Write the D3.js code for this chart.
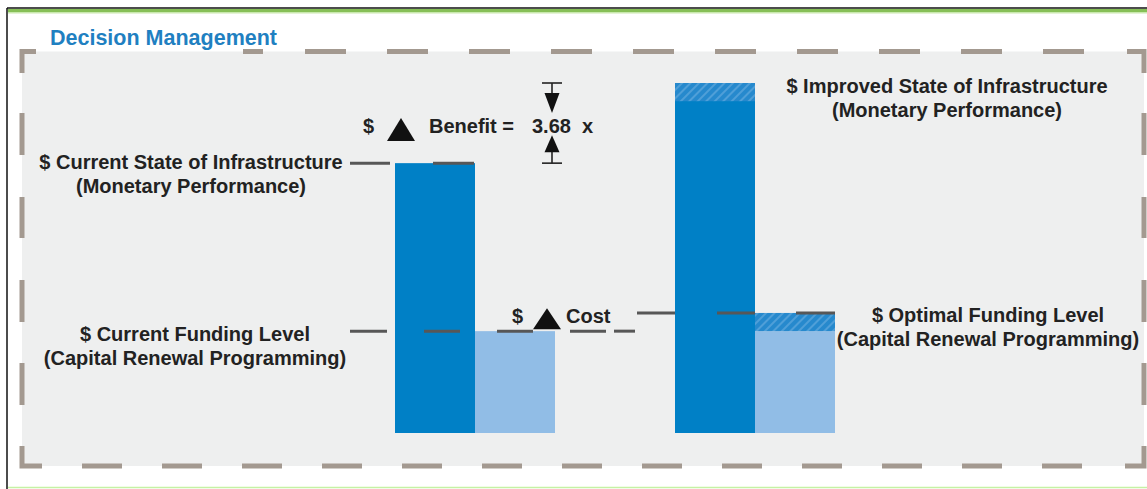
<!DOCTYPE html>
<html>
<head>
<meta charset="utf-8">
<script src="https://cdn.jsdelivr.net/npm/d3@7"></script>
<style>
  html, body { margin: 0; padding: 0; background: #fff; overflow: hidden; }
  svg { display: block; }
</style>
</head>
<body>
<script>
// ---- data -------------------------------------------------------------
const categories = ["Current", "Optimal"];
const stateValues = [77.1, 100];      // monetary performance of the infrastructure
const fundingValues = [29.1, 34.3];   // capital renewal funding level
const benefitFactor = "3.68";
const titleText = "Decision Management";
const stateLabels = [
  ["$ Current State of Infrastructure", "(Monetary Performance)"],
  ["$ Improved State of Infrastructure", "(Monetary Performance)"]
];
const fundingLabels = [
  ["$ Current Funding Level", "(Capital Renewal Programming)"],
  ["$ Optimal Funding Level", "(Capital Renewal Programming)"]
];

// ---- setup ------------------------------------------------------------
const W = 1147, H = 489;
const FONT = "'Liberation Sans', Arial, Helvetica, sans-serif";
const TXT = "#222";
const LINE = "#575757";
const DASH = "#a39990";
const FS = 20;

const svg = d3.select("body").append("svg")
  .attr("width", W).attr("height", H)
  .style("font-family", FONT);

const x = d3.scaleBand().domain(categories).range([395, 835])
  .paddingInner(120 / 280).paddingOuter(0);
const xs = d3.scaleBand().domain(["state", "funding"]).range([0, x.bandwidth()]).padding(0);
const y = d3.scaleLinear().domain([0, 100]).range([433, 83]);

const defs = svg.append("defs");
const pat = defs.append("pattern").attr("id", "hatch")
  .attr("patternUnits", "userSpaceOnUse").attr("width", 6).attr("height", 6)
  .attr("patternTransform", "rotate(45)");
pat.append("rect").attr("width", 6).attr("height", 6).attr("fill", "#2689cd");
pat.append("rect").attr("width", 2).attr("height", 6).attr("fill", "#4f9fd8");

// ---- page frame -------------------------------------------------------
svg.append("rect").attr("x", 8).attr("y", 9).attr("width", W - 8).attr("height", 3).attr("fill", "#86bf57");
svg.append("rect").attr("x", 8).attr("y", 12).attr("width", W - 8).attr("height", 1.5).attr("fill", "#c9e8ae");
svg.append("line").attr("x1", 7).attr("x2", W).attr("y1", 8).attr("y2", 8).attr("stroke", "#111").attr("stroke-width", 1.5);
svg.append("line").attr("x1", 7).attr("x2", 7).attr("y1", 8).attr("y2", H).attr("stroke", "#111").attr("stroke-width", 1.5);
svg.append("line").attr("x1", 8).attr("x2", W).attr("y1", 487.5).attr("y2", 487.5).attr("stroke", "#c6f1a4").attr("stroke-width", 1.5);

// grey panel with dashed border
svg.append("rect").attr("x", 22).attr("y", 51.5).attr("width", 1122).attr("height", 414.5).attr("fill", "#eeefef");

const frame = svg.append("g").attr("stroke", DASH).attr("stroke-width", 5).attr("fill", "none");
const corners = [
  [[22, 73], [22, 51.5], [36, 51.5]],
  [[1127, 51.5], [1144, 51.5], [1144, 73]],
  [[22, 446], [22, 466], [42, 466]],
  [[1125, 466], [1144, 466], [1144, 446]]
];
frame.selectAll("path.corner").data(corners).join("path")
  .attr("class", "corner").attr("d", d => d3.line()(d));

const topDashes = [[243, 263]].concat(d3.range(10).map(k => [305 + 82 * k, 346 + 82 * k]));
const bottomDashes = d3.range(13).map(k => [82 + 80 * k, 122 + 80 * k]);
const sideDashes = [[113, 155], [197, 238], [280, 322], [363, 405]];
frame.selectAll("line.top").data(topDashes).join("line").attr("class", "top")
  .attr("x1", d => d[0]).attr("x2", d => d[1]).attr("y1", 51.5).attr("y2", 51.5);
frame.selectAll("line.bottom").data(bottomDashes).join("line").attr("class", "bottom")
  .attr("x1", d => d[0]).attr("x2", d => d[1]).attr("y1", 466).attr("y2", 466);
[22, 1144].forEach(cx => {
  frame.append("g").selectAll("line").data(sideDashes).join("line")
    .attr("x1", cx).attr("x2", cx).attr("y1", d => d[0]).attr("y2", d => d[1]);
});

// title
svg.append("text").attr("x", 50).attr("y", 45).text(titleText)
  .attr("fill", "#1f80c1").attr("font-weight", "bold").attr("font-size", 21.5);

// ---- bars -------------------------------------------------------------
const bars = svg.append("g");
categories.forEach((c, i) => {
  const x0 = x(c);
  // state bar (dark)
  bars.append("rect").attr("x", x0 + xs("state")).attr("width", xs.bandwidth())
    .attr("y", y(stateValues[i])).attr("height", y(0) - y(stateValues[i])).attr("fill", "#0080c6");
  // funding bar (light) up to the current funding level
  bars.append("rect").attr("x", x0 + xs("funding")).attr("width", xs.bandwidth())
    .attr("y", y(fundingValues[0])).attr("height", y(0) - y(fundingValues[0])).attr("fill", "#91bde6");
  if (i > 0) {
    const extra = fundingValues[i] - fundingValues[0];
    // additional funding (hatched)
    bars.append("rect").attr("x", x0 + xs("funding")).attr("width", xs.bandwidth())
      .attr("y", y(fundingValues[i])).attr("height", y(fundingValues[0]) - y(fundingValues[i]))
      .attr("fill", "url(#hatch)");
    // matching share at the top of the improved state bar
    bars.append("rect").attr("x", x0 + xs("state")).attr("width", xs.bandwidth())
      .attr("y", y(stateValues[i])).attr("height", y(stateValues[i] - extra) - y(stateValues[i]))
      .attr("fill", "url(#hatch)");
  }
});

// ---- level leader lines ----------------------------------------------
const leaders = [
  { v: stateValues[0], segs: [[350, 390], [433, 474]] },
  { v: fundingValues[0], segs: [[350, 387], [424, 460], [497, 533], [570, 606], [614, 635]] },
  { v: fundingValues[1], segs: [[637, 675], [717, 755], [796, 835]] }
];
const lg = svg.append("g").attr("stroke", LINE).attr("stroke-width", 3);
leaders.forEach(l => {
  lg.append("g").selectAll("line").data(l.segs).join("line")
    .attr("x1", d => d[0]).attr("x2", d => d[1])
    .attr("y1", y(l.v)).attr("y2", y(l.v));
});

// ---- labels -----------------------------------------------------------
const labels = svg.append("g").attr("fill", TXT).attr("font-weight", "bold")
  .attr("font-size", FS).attr("text-anchor", "middle");
function twoLine(lines, cx, base) {
  lines.forEach((t, k) => labels.append("text").attr("x", cx).attr("y", base + 24 * k).text(t));
}
twoLine(stateLabels[0], 191, y(stateValues[0]) + 6);
twoLine(stateLabels[1], 947, y(stateValues[1]) + 10);
twoLine(fundingLabels[0], 195, y(fundingValues[0]) + 10);
twoLine(fundingLabels[1], 988, y(fundingValues[1]) + 9);

// ---- benefit / cost annotations --------------------------------------
const ann = svg.append("g").attr("fill", TXT).attr("font-weight", "bold").attr("font-size", FS);
const bBase = (y(stateValues[1]) + y(stateValues[0])) / 2 + 10;
ann.append("text").attr("x", 363).attr("y", bBase).text("$");
ann.append("path").attr("d", `M387,${bBase + 8}L401,${bBase - 15}L415,${bBase + 8}Z`).attr("fill", "#111");
ann.append("text").attr("x", 429).attr("y", bBase).text("Benefit =");
ann.append("text").attr("x", 532).attr("y", bBase).text(benefitFactor);
ann.append("text").attr("x", 582).attr("y", bBase).text("x");

const cBase = y(fundingValues[0]) - 8;
ann.append("text").attr("x", 512).attr("y", cBase).text("$");
ann.append("path").attr("d", `M533,${cBase + 6}L547,${cBase - 15}L561,${cBase + 6}Z`).attr("fill", "#111");
ann.append("text").attr("x", 566).attr("y", cBase).text("Cost");

// dimension arrows between the two state levels
const ax = 552, yTop = y(stateValues[1]), yBot = y(stateValues[0]);
const dim = svg.append("g").attr("stroke", "#222").attr("stroke-width", 1.6);
dim.append("line").attr("x1", ax - 10).attr("x2", ax + 10).attr("y1", yTop).attr("y2", yTop);
dim.append("line").attr("x1", ax).attr("x2", ax).attr("y1", yTop).attr("y2", yTop + 12);
dim.append("path").attr("stroke", "none").attr("fill", "#111")
  .attr("d", `M${ax - 7.5},${yTop + 10}L${ax + 7.5},${yTop + 10}L${ax},${yTop + 30}Z`);
dim.append("line").attr("x1", ax - 10).attr("x2", ax + 10).attr("y1", yBot).attr("y2", yBot);
dim.append("line").attr("x1", ax).attr("x2", ax).attr("y1", yBot).attr("y2", yBot - 13);
dim.append("path").attr("stroke", "none").attr("fill", "#111")
  .attr("d", `M${ax - 7.5},${yBot - 11}L${ax + 7.5},${yBot - 11}L${ax},${yBot - 28}Z`);
</script>
</body>
</html>
